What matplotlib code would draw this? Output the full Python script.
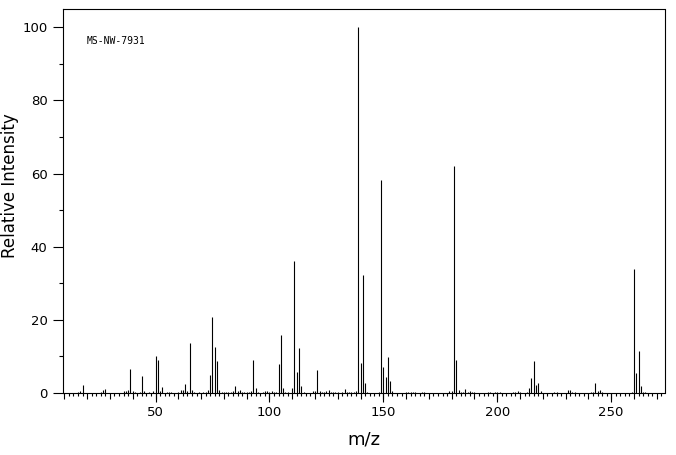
import matplotlib
matplotlib.use("Agg")
import matplotlib.pyplot as plt
from matplotlib.ticker import MultipleLocator, NullFormatter

# espectro de massas (m/z, intensidade relativa)
mz = [16, 17, 18, 26, 27, 28, 36, 37, 38, 39, 40, 41, 43, 44, 45, 47, 49,
      50, 51, 52, 53, 55, 56, 57, 60, 61, 62, 63, 64, 65, 66, 67, 69, 71,
      72, 73, 74, 75, 76, 77, 78, 79, 80, 81, 82, 83, 84, 85, 86, 87, 88,
      89, 90, 91, 92, 93, 94, 95, 97, 98, 99, 100, 101, 102, 103, 104, 105,
      106, 107, 108, 110, 111, 112, 113, 114, 115, 119, 120, 121, 122, 123,
      124, 125, 126, 127, 128, 129, 130, 132, 133, 134, 135, 136, 137, 138,
      139, 140, 141, 142, 143, 148, 149, 150, 151, 152, 153, 154, 160, 161,
      162, 163, 164, 167, 168, 179, 180, 181, 182, 183, 184, 185, 186, 187,
      188, 189, 190, 196, 197, 199, 200, 201, 207, 208, 209, 210, 213, 214,
      215, 216, 217, 218, 219, 225, 226, 231, 232, 233, 234, 241, 242, 243,
      244, 245, 246, 259, 260, 261, 262, 263, 264, 265]
intensidade = [0.3, 0.5, 2.2, 0.3, 0.8, 1.1, 0.5, 0.5, 0.8, 6.6, 0.5, 0.3, 0.3,
               4.6, 0.5, 0.3, 0.5, 10.1, 9.0, 0.5, 1.6, 0.3, 0.3, 0.3, 0.3, 0.8,
               0.8, 2.5, 0.5, 13.7, 0.8, 0.3, 0.3, 0.3, 0.3, 0.8, 4.9, 20.8,
               12.6, 8.7, 0.8, 0.3, 0.3, 0.3, 0.3, 0.3, 0.5, 1.9, 0.5, 0.8, 0.3,
               0.3, 0.3, 0.3, 0.5, 9.0, 1.4, 0.3, 0.3, 0.5, 0.5, 0.3, 0.5, 0.3,
               0.3, 7.9, 15.8, 1.4, 0.3, 0.3, 1.4, 36.1, 5.7, 12.3, 1.9, 0.3,
               0.5, 0.5, 6.3, 0.5, 0.3, 0.4, 0.6, 0.8, 0.3, 0.3, 0.3, 0.3, 0.3,
               1.0, 0.3, 0.3, 0.3, 0.3, 0.5, 100.0, 8.2, 32.2, 2.7, 0.3, 0.3,
               58.2, 7.1, 4.4, 9.8, 3.3, 0.5, 0.3, 0.3, 0.3, 0.3, 0.3, 0.3, 0.3,
               0.5, 0.5, 62.0, 9.0, 0.8, 0.3, 0.3, 1.1, 0.3, 0.5, 0.3, 0.3, 0.3,
               0.3, 0.3, 0.3, 0.3, 0.3, 0.3, 0.5, 0.3, 0.3, 1.4, 4.1, 8.7, 2.2,
               2.7, 0.5, 0.3, 0.3, 0.8, 0.8, 0.3, 0.3, 0.3, 0.3, 2.7, 0.5, 0.8,
               0.3, 0.3, 33.9, 5.5, 11.5, 1.9, 0.3, 0.3]
x_labels = [50, 100, 150, 200, 250]
y_ticks = [0, 20, 40, 60, 80, 100]
codigo = "MS-NW-7931"

fig = plt.figure(figsize=(6.76, 4.55), dpi=100)
ax = fig.add_axes([63 / 676, 62 / 455, 601.5 / 676, 384 / 455])

ax.vlines(mz, 0, intensidade, colors="black", linewidth=0.8)
ax.set_xlim(9.4, 273.4)
ax.set_ylim(0, 105)

for s in ax.spines.values():
    s.set_linewidth(0.8)

# eixo x: traços a cada 2 e 10, rótulos a cada 50
ax.xaxis.set_major_locator(MultipleLocator(10))
ax.xaxis.set_minor_locator(MultipleLocator(2))
ax.xaxis.set_major_formatter(NullFormatter())
ax.tick_params(axis="x", which="major", length=4.3, width=0.8, direction="out")
ax.tick_params(axis="x", which="minor", length=2.2, width=0.8, direction="out")

sec = ax.secondary_xaxis("bottom")
sec.spines["bottom"].set_visible(False)
sec.set_xticks(x_labels)
sec.set_xticklabels([str(v) for v in x_labels])
sec.tick_params(length=6.5, width=0.8, pad=3, labelsize=9.5)
sec.set_xlabel("m/z", fontsize=13, labelpad=8)

# eixo y
ax.set_yticks(y_ticks)
ax.yaxis.set_minor_locator(MultipleLocator(10))
ax.tick_params(axis="y", which="major", length=7.2, width=0.8, pad=4, labelsize=9.5)
ax.tick_params(axis="y", which="minor", length=2.9, width=0.8)
ax.set_ylabel("Relative Intensity", fontsize=12)
ax.yaxis.set_label_coords(-0.073, 0.54)

ax.text(0.04, 0.917, codigo, transform=ax.transAxes, fontsize=7,
        family="DejaVu Sans Mono", va="center", ha="left")

plt.savefig("out.png", dpi=100)
